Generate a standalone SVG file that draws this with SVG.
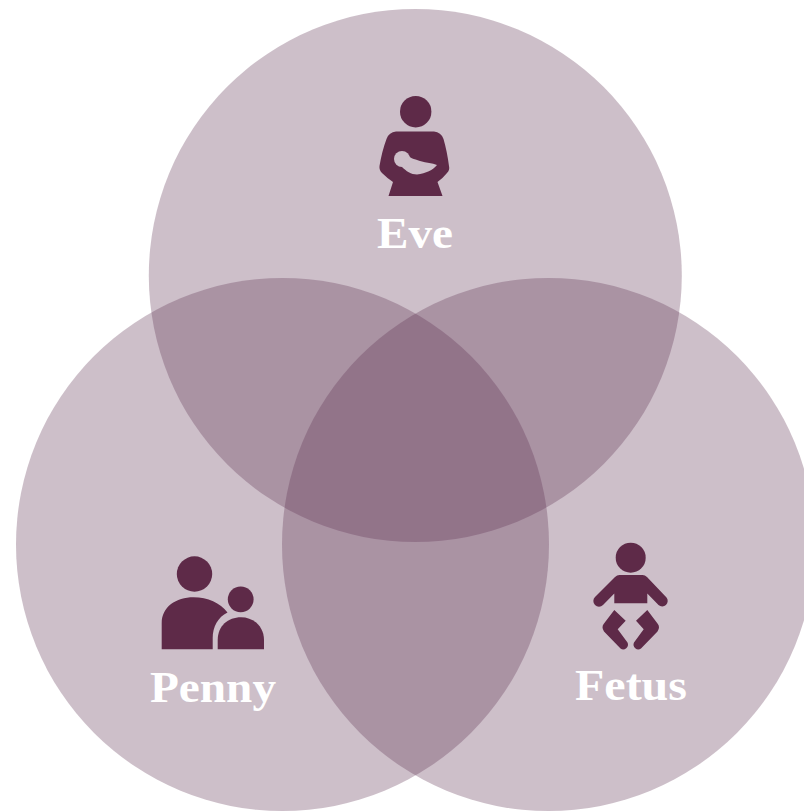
<svg xmlns="http://www.w3.org/2000/svg" width="804" height="811" viewBox="0 0 804 811">
<style>
.set{fill:#5e3151;fill-opacity:.31}
.icon{fill:#5e2a48}
.hole{fill:#cdbfc9}
.label{font-family:"Liberation Serif","Times New Roman",serif;font-weight:700;font-size:45px;fill:#fff;text-anchor:middle}
</style>
<rect width="804" height="811" fill="#fff"/>
<g id="circle-eve"><circle class="set" cx="415.3" cy="275.500" r="266.500"/></g>
<g id="circle-penny"><circle class="set" cx="282.500" cy="544.500" r="266.500"/></g>
<g id="circle-fetus"><circle class="set" cx="548.500" cy="544.500" r="266.500"/></g>
<g id="eve">
<circle class="icon" cx="415.700" cy="111.700" r="15.700"/>
<path class="icon" d="M396 131.500H434Q441 132 443.500 139Q447 151 449 166Q450 170 447 173Q443 178 437.500 182L442.500 196H388.500L393 182Q387 178 382 173Q379 170 379.500 166Q382 151 386.500 139Q389 132 396 131.500Z"/>
<g class="hole"><circle cx="402" cy="159" r="8"/><path d="M406 153C409 158 414 159 420 161C427 163 432 163 437 165C433 170 426 173.500 417 174.500C411 174.500 406 171 402 167Z"/></g>
<text class="label" x="415" y="248" textLength="76" lengthAdjust="spacingAndGlyphs">Eve</text>
</g>
<g id="penny">
<circle class="icon" cx="194.500" cy="574" r="17.700"/>
<circle class="icon" cx="240.700" cy="599.300" r="12.900"/>
<path class="icon" d="M161.700 649.300V623C161.700 607 176 597.300 193.500 597.300C208 597.300 220 603 227.500 612.500C218 617 212.700 627 212.700 638V649.300Z"/>
<path class="icon" d="M217.700 649.300V640C217.700 626 228 617.300 241 617.300C254 617.300 264 627 264 640V649.300Z"/>
<text class="label" x="213" y="702" textLength="126" lengthAdjust="spacingAndGlyphs">Penny</text>
</g>
<g id="fetus">
<circle class="icon" cx="630.700" cy="557.700" r="15"/>
<path class="icon" d="M619.500 575H642.500Q645 575 647 577L666.500 597.500A5.500 5.500 0 0 1 658.500 605L647.300 593.500V603.300H614.300V593.500L603 605A5.500 5.500 0 0 1 595 597L615 577Q617 575 619.500 575Z"/>
<path class="icon" d="M614.300 610L625.700 620.700L617.700 629.300L627.500 642.500A4.800 4.800 0 0 1 620.500 648.500L604 631.500Q601 627 604 623.500Z"/>
<path class="icon" d="M647.300 610L636 620.700L643.700 629.300L634 642.500A4.800 4.800 0 0 0 641 648.500L657.500 631.500Q660.500 627 657.500 623.500Z"/>
<text class="label" x="631" y="700" textLength="112" lengthAdjust="spacingAndGlyphs">Fetus</text>
</g>
</svg>
